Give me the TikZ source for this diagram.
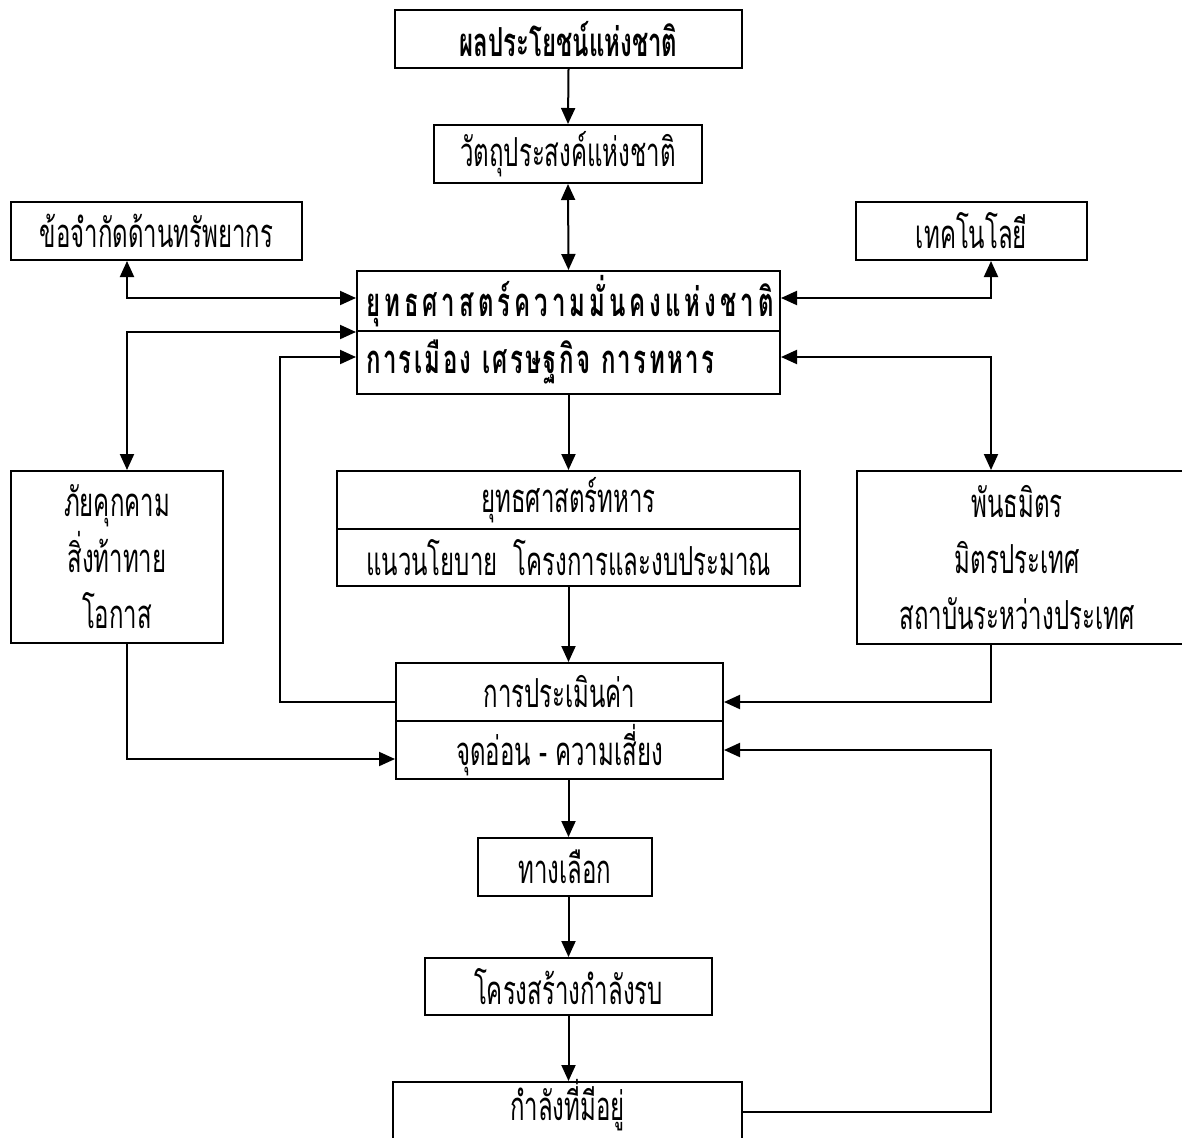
\documentclass[tikz,border=0pt]{standalone}
\usepackage{fontspec}
\usetikzlibrary{arrows.meta}
\newfontfamily\thaifont[Script=Thai,FakeStretch=0.6]{Loma}
\newfontfamily\thaiwideA[Script=Thai,FakeStretch=0.6,LetterSpace=10]{Loma}
\newfontfamily\thaiwideB[Script=Thai,FakeStretch=0.6,LetterSpace=6]{Loma}
\begin{document}
\begin{tikzpicture}[x=1pt,y=-1pt,
  box/.style={draw,line width=2pt,inner sep=0pt,font=\thaifont\fontsize{40}{56}\selectfont,align=center},
  conn/.style={line width=2pt},
  arr/.style={conn,-{Triangle[length=16pt,width=14pt]}},
  arrb/.style={conn,{Triangle[length=16pt,width=14pt]}-{Triangle[length=16pt,width=14pt]}}]
\useasboundingbox (0,0) rectangle (1182,1137);
\clip (0,0) rectangle (1182,1137);
\fill[white] (0,0) rectangle (1182,1137);
% helper coordinates
\coordinate (xl) at (127,0);
\coordinate (xr) at (991,0);
\coordinate (xf) at (280,0);
\coordinate (yA) at (0,298);
\coordinate (yB) at (0,357);
\coordinate (yC) at (0,702);
\coordinate (yD) at (0,750);
\coordinate (yE) at (0,759);
\coordinate (yF) at (0,1112);
% boxes
\node[box,minimum width=347pt,minimum height=58pt,font=\thaifont\bfseries\fontsize{40}{42}\selectfont] (A) at (568.5,39) {ผลประโยชน์แห่งชาติ};
\node[box,minimum width=268pt,minimum height=58pt] (B) at (568,154) {วัตถุประสงค์แห่งชาติ};
\node[box,minimum width=291pt,minimum height=58pt] (D) at (156.5,231) {ข้อจำกัดด้านทรัพยากร};
\node[box,minimum width=231pt,minimum height=58pt] (E) at (971.5,231) {เทคโนโลยี};
\node[box,minimum width=423pt,minimum height=60pt] (C1) at (568.5,301) {};
\node[box,minimum width=423pt,minimum height=63pt] (C2) at (568.5,362.5) {};
\node[anchor=west,inner sep=0pt,font=\thaiwideA\bfseries\fontsize{40}{42}\selectfont] (C1t) at (366,301) {ยุทธศาสตร์ความมั่นคงแห่งชาติ};
\node[anchor=west,inner sep=0pt,font=\thaiwideB\bfseries\fontsize{40}{42}\selectfont] (C2t) at (366,362) {การเมือง เศรษฐกิจ การทหาร};
\node[box,minimum width=212pt,minimum height=172pt] (F) at (117,557) {ภัยคุกคาม\\สิ่งท้าทาย\\โอกาส};
\node[box,minimum width=330pt,minimum height=173pt] (G) at (1022,557.5) {};
\node[inner sep=0pt,align=center,font=\thaifont\fontsize{40}{56}\selectfont] (Gt) at (1017,557.5) {พันธมิตร\\มิตรประเทศ\\สถาบันระหว่างประเทศ};
\node[box,minimum width=463pt,minimum height=58pt] (H1) at (568.5,500) {ยุทธศาสตร์ทหาร};
\node[box,minimum width=463pt,minimum height=57pt] (H2) at (568.5,557.5) {แนวนโยบาย\ \ โครงการและงบประมาณ};
\node[box,minimum width=327pt,minimum height=58pt] (I1) at (559.5,692) {การประเมินค่า};
\node[box,minimum width=327pt,minimum height=58pt] (I2) at (559.5,750) {จุดอ่อน - ความเสี่ยง};
\node[box,minimum width=174pt,minimum height=58pt] (J) at (565,867) {ทางเลือก};
\node[box,minimum width=287pt,minimum height=57pt] (K) at (568.5,986.5) {โครงสร้างกำลังรบ};
\node[box,minimum width=349pt,minimum height=80pt,text depth=0pt] (L) at (567.5,1122) {};
\node[inner sep=0pt,font=\thaifont\fontsize{40}{42}\selectfont] (Lt) at (567.5,1105) {กำลังที่มีอยู่};
% connectors
\draw[arr] (A.south) -- (B.north);
\draw[arrb] (B.south) -- (C1.north);
\draw[arrb] (D.south -| xl) |- (C1.west |- yA);
\draw[arrb] (E.south -| xr) |- (C1.east |- yA);
\draw[arrb] (C1.south west) -| (F.north -| xl);
\draw[arrb] (C2.east |- yB) -| (G.north -| xr);
\draw[arr] (C2.south) -- (H1.north -| C2.south);
\draw[arr] (H2.south) -- (I1.north -| H2.south);
\draw[arr] (F.south -| xl) |- (I2.west |- yE);
\draw[arr] (I1.west |- yC) -| (xf |- yB) -- (C2.west |- yB);
\draw[arr] (G.south -| xr) |- (I1.east |- yC);
\draw[arr] (L.east |- yF) -| (xr |- yD) -- (I2.east |- yD);
\draw[arr] (I2.south -| C2.south) -- (J.north -| C2.south);
\draw[arr] (J.south -| C2.south) -- (K.north -| C2.south);
\draw[arr] (K.south -| C2.south) -- (L.north -| C2.south);
\end{tikzpicture}
\end{document}
